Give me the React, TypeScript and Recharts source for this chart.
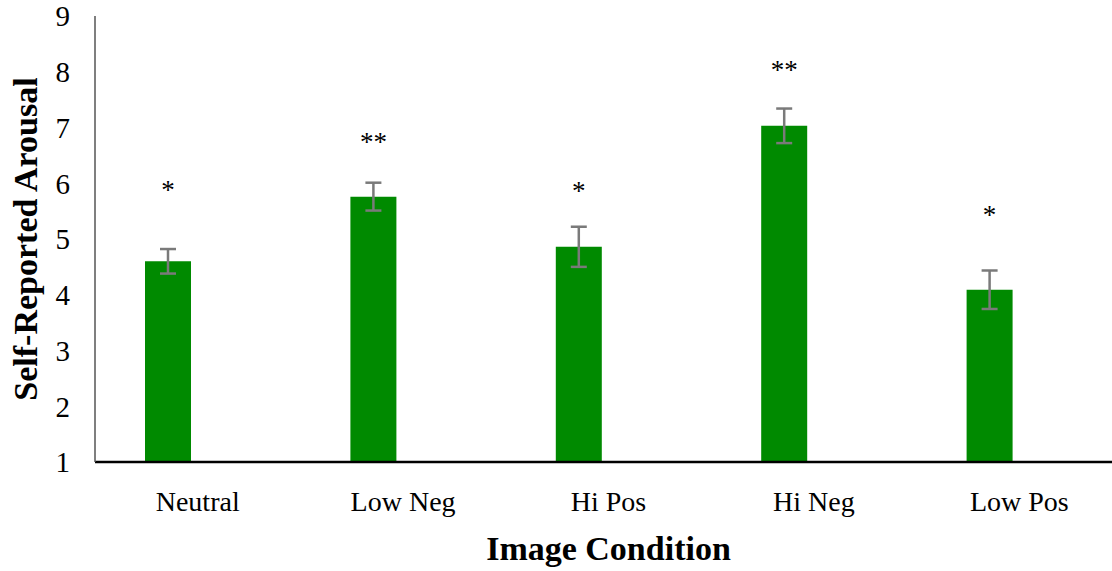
import React from "react";
import { BarChart, Bar, ErrorBar, LabelList, XAxis, YAxis } from "recharts";

const categories = ["Neutral", "Low Neg", "Hi Pos", "Hi Neg", "Low Pos"];
const means = [4.6, 5.76, 4.86, 7.03, 4.09];
const errors = [0.22, 0.25, 0.36, 0.31, 0.345];
const starMarks = ["*", "**", "*", "**", "*"];
const starPos = [5.95, 6.81, 5.93, 8.1, 5.5];
const yTicks = [1, 2, 3, 4, 5, 6, 7, 8, 9];
const Y_MIN = 1;

const data = categories.map((c, i) => ({
  name: c,
  mean: means[i],
  err: errors[i],
  star: starPos[i],
  mark: starMarks[i],
  empty: null as number | null,
}));

const FONT = "'Liberation Serif', 'Times New Roman', serif";

const StarLabel = (props: any) => {
  const { x, y, width, height, index } = props;
  const d = data[index];
  const base = y + height;
  const ppu = height / (d.mean - Y_MIN);
  const cy = base - (d.star - Y_MIN) * ppu;
  const fs = 27;
  return (
    <text
      x={x + width / 2}
      y={cy + fs * 0.47}
      textAnchor="middle"
      fontFamily={FONT}
      fontSize={fs}
      fill="#000"
    >
      {d.mark}
    </text>
  );
};

const YLabel = (props: any) => {
  const vb = props.viewBox || {};
  const x = vb.x + 37;
  const y = vb.y + vb.height / 2;
  return (
    <text
      x={x}
      y={y}
      transform={`rotate(-90 ${x} ${y})`}
      textAnchor="middle"
      fontFamily={FONT}
      fontWeight="bold"
      fontSize={34}
      fill="#000"
    >
      Self-Reported Arousal
    </text>
  );
};

export default function App() {
  return (
    <div
      style={{
        position: "absolute",
        left: 0,
        top: 0,
        width: 1112,
        height: 571,
        overflow: "hidden",
        background: "#fff",
      }}
    >
      <BarChart
        width={1122}
        height={571}
        data={data}
        margin={{ top: 16, right: 0, left: 0, bottom: 0 }}
        barGap={14}
      >
        <XAxis
          dataKey="name"
          height={109}
          axisLine={{ stroke: "#000", strokeWidth: 2.5 }}
          tickLine={false}
          tickSize={0}
          tickMargin={29}
          tick={{ fontFamily: FONT, fontSize: 28, fill: "#000" }}
          interval={0}
          label={{
            value: "Image Condition",
            position: "insideBottom",
            offset: 11,
            fontFamily: FONT,
            fontWeight: "bold",
            fontSize: 34,
            fill: "#000",
          }}
        />
        <YAxis
          type="number"
          domain={[1, 9]}
          ticks={yTicks}
          interval={0}
          width={95}
          axisLine={{ stroke: "#555", strokeWidth: 1.5 }}
          tickLine={false}
          tickSize={0}
          tickMargin={25}
          tick={{ fontFamily: FONT, fontSize: 29, fill: "#000" }}
          label={<YLabel />}
        />
        <Bar dataKey="mean" fill="#008A00" barSize={46} isAnimationActive={false}>
          <ErrorBar dataKey="err" width={8} stroke="#7a7a7a" strokeWidth={2.5} />
          <LabelList dataKey="mark" content={<StarLabel />} />
        </Bar>
        <Bar dataKey="empty" fill="transparent" barSize={46} isAnimationActive={false} />
      </BarChart>
    </div>
  );
}
